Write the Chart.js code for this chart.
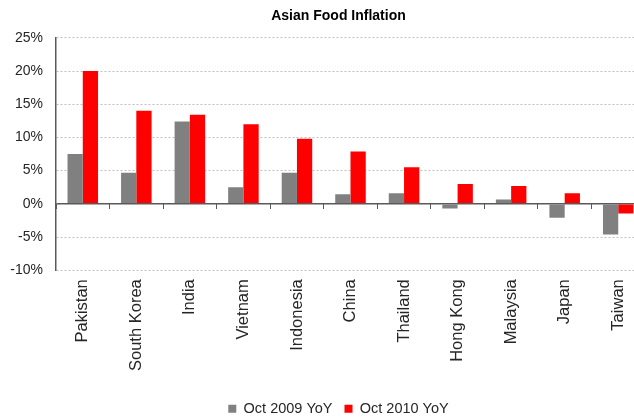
<!DOCTYPE html>
<html>
<head>
<meta charset="utf-8">
<script src="https://cdn.jsdelivr.net/npm/chart.js@4/dist/chart.umd.min.js"></script>
<style>
  html, body { margin: 0; padding: 0; background: #fff; overflow: hidden; }
  #wrap { width: 634px; height: 417px; overflow: hidden; }
</style>
</head>
<body>
<div id="wrap"><canvas id="myChart" width="667" height="426"></canvas></div>
<script>
const countries = ["Pakistan", "South Korea", "India", "Vietnam", "Indonesia", "China",
  "Thailand", "Hong Kong", "Malaysia", "Japan", "Taiwan"];
const oct2009 = [7.5, 4.7, 12.4, 2.5, 4.7, 1.45, 1.6, -0.7, 0.65, -2.1, -4.6];
const oct2010 = [20.0, 14.0, 13.4, 12.0, 9.8, 7.9, 5.5, 3.0, 2.7, 1.6, -1.45];
const yMin = -10, yMax = 25, yStep = 5;

const axisColor = "#595959";
const textColor = "#262626";
Chart.defaults.font.family = "'Liberation Sans', Arial, sans-serif";

const ctx = document.getElementById("myChart").getContext("2d");
new Chart(ctx, {
  type: "bar",
  data: {
    labels: countries,
    datasets: [
      { label: "Oct 2009 YoY", data: oct2009, backgroundColor: "#808080", borderWidth: 0 },
      { label: "Oct 2010 YoY", data: oct2010, backgroundColor: "#FF0000", borderWidth: 0 }
    ]
  },
  options: {
    responsive: false,
    animation: false,
    layout: { padding: { left: 10, right: 0, top: 0, bottom: 0 } },
    datasets: { bar: { categoryPercentage: 0.57, barPercentage: 1 } },
    plugins: {
      title: {
        display: true,
        text: "Asian Food Inflation",
        color: "#000",
        font: { size: 14, weight: "bold" },
        padding: { top: 8, bottom: 13 }
      },
      legend: {
        position: "bottom",
        labels: {
          color: textColor,
          font: { size: 14.5 },
          boxWidth: 8,
          boxHeight: 8,
          padding: 12
        }
      },
      tooltip: { enabled: false }
    },
    scales: {
      x: {
        position: "bottom",
        grid: { display: false },
        border: { display: false },
        ticks: {
          color: textColor,
          font: { size: 16.5 },
          minRotation: 90,
          maxRotation: 90,
          padding: 1,
          autoSkip: false
        },
        afterFit: (scale) => {
          scale.height += 17.5;
          scale.paddingLeft = 0;
          scale.paddingRight = 0;
        }
      },
      // tick marks along the zero line, between categories
      xZero: {
        type: "category",
        position: { y: 0 },
        offset: true,
        grid: {
          offset: true,
          drawOnChartArea: false,
          drawTicks: true,
          tickLength: 5,
          tickColor: axisColor,
          color: axisColor
        },
        border: { display: false },
        ticks: { display: false },
        afterFit: (scale) => {
          scale.paddingLeft = 0;
          scale.paddingRight = 0;
        }
      },
      y: {
        min: yMin,
        max: yMax,
        ticks: {
          stepSize: yStep,
          color: textColor,
          font: { size: 14 },
          padding: 13,
          callback: (v) => v + "%"
        },
        grid: {
          drawTicks: false,
          color: (c) => (c.tick && c.tick.value === 0) ? axisColor : "#BFBFBF",
          lineWidth: (c) => (c.tick && c.tick.value === 0) ? 1.5 : 1
        },
        border: {
          display: true,
          color: axisColor,
          width: 1.5,
          dash: (c) => (c.tick && c.tick.value === 0) ? [] : [2, 2]
        },
        afterFit: (scale) => { scale.width = 46; }
      },
      // empty strip on the right so title and legend sit centred on the page
      yPad: {
        position: "right",
        grid: { display: false },
        border: { display: false },
        ticks: { display: false },
        afterFit: (scale) => { scale.width = 22; }
      }
    }
  }
});
</script>
</body>
</html>
